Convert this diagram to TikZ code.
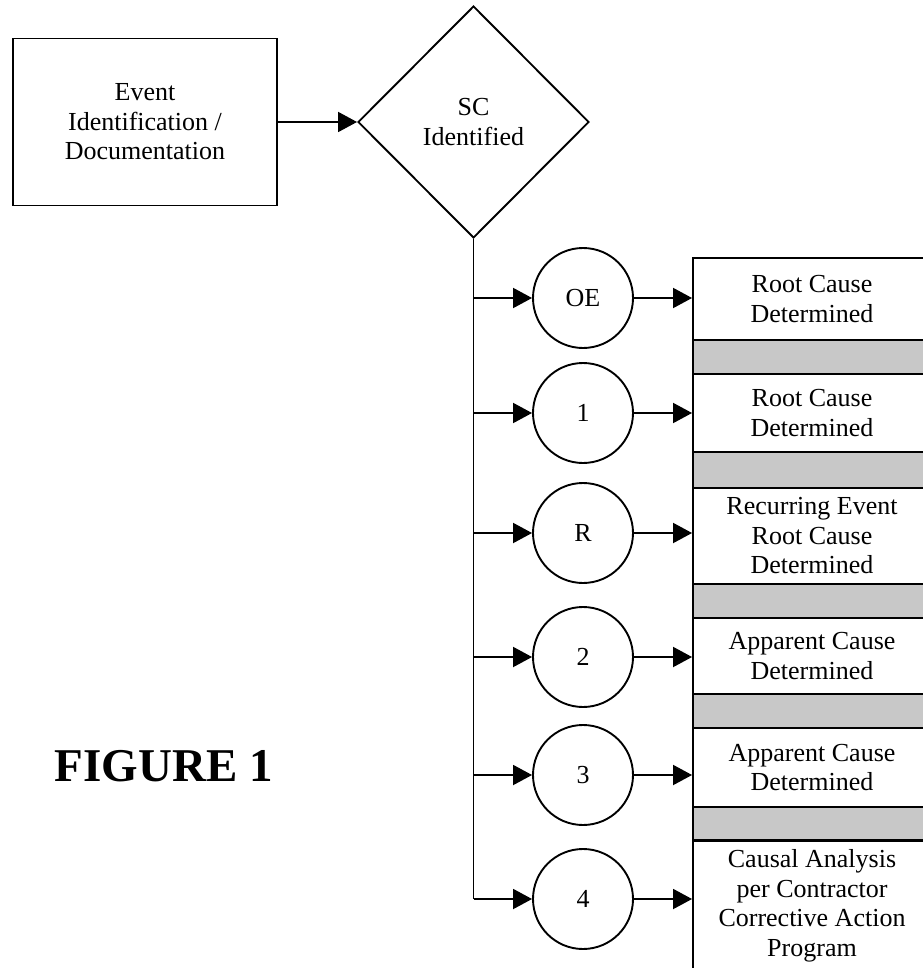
\documentclass[tikz,border=0pt]{standalone}
\usepackage{fontspec}
\setmainfont{Liberation Serif}
\usepackage{tikz}
\usetikzlibrary{arrows.meta,shapes}
\definecolor{barcolor}{RGB}{200,200,200}

\begin{document}
\begin{tikzpicture}[x=1pt, y=-1pt, line width=1.9pt, >={Triangle[length=19pt,width=20pt]},
  box node/.style={rectangle, draw, align=center, inner sep=0pt, minimum width=238pt, font=\fontsize{26}{29.5}\selectfont},
  main node/.style={circle, draw, minimum size=100pt, inner sep=0pt, font=\fontsize{26}{29.5}\selectfont},
  check node/.style={diamond, draw, align=center, inner sep=0pt, minimum width=231pt, minimum height=232pt, font=\fontsize{26}{29.5}\selectfont}]
\useasboundingbox (0,0) rectangle (922,968);
\node[box node, minimum width=264pt, minimum height=167pt] (event) at (145,122) {Event\\Identification /\\Documentation};
\node[check node] (sc) at (473.5,122) {SC\\Identified};
\node[main node] (oe) at (583,298) {OE};
\node[main node] (1) at (583,413) {1};
\node[main node] (r) at (583,533) {R};
\node[main node] (2) at (583,657) {2};
\node[main node] (3) at (583,775) {3};
\node[main node] (4) at (583,899) {4};
% result column
\foreach \t/\b in {340/374, 452/488, 584/618, 694/728, 807/840}
  \draw[fill=barcolor] (693,\t) rectangle (931,\b);
\node[box node, minimum height=82pt] (res oe) at (812,299) {Root Cause\\Determined};
\node[box node, minimum height=78pt] (res 1) at (812,413) {Root Cause\\Determined};
\node[box node, minimum height=96pt] (res r) at (812,536) {Recurring Event\\Root Cause\\Determined};
\node[box node, minimum height=76pt] (res 2) at (812,656) {Apparent Cause\\Determined};
\node[box node, minimum height=79pt] (res 3) at (812,767.5) {Apparent Cause\\Determined};
\node[box node, minimum height=130pt, anchor=north] (res 4) at (812,840) {Causal Analysis\\per Contractor\\Corrective Action\\Program};
\node[font=\fontsize{47}{50}\selectfont\bfseries, inner sep=0pt] (fig) at (164,766.5) {FIGURE 1};
\coordinate (end) at (473.5,899);
\draw (sc.south) -- (end);
\path[->]
(event) edge (sc)
(end |- oe) edge (oe)
(end |- 1) edge (1)
(end |- r) edge (r)
(end |- 2) edge (2)
(end |- 3) edge (3)
(end) edge (4)
(oe) edge (oe -| res oe.west)
(1) edge (1 -| res 1.west)
(r) edge (r -| res r.west)
(2) edge (2 -| res 2.west)
(3) edge (3 -| res 3.west)
(4) edge (4 -| res 4.west);
\end{tikzpicture}
\end{document}
